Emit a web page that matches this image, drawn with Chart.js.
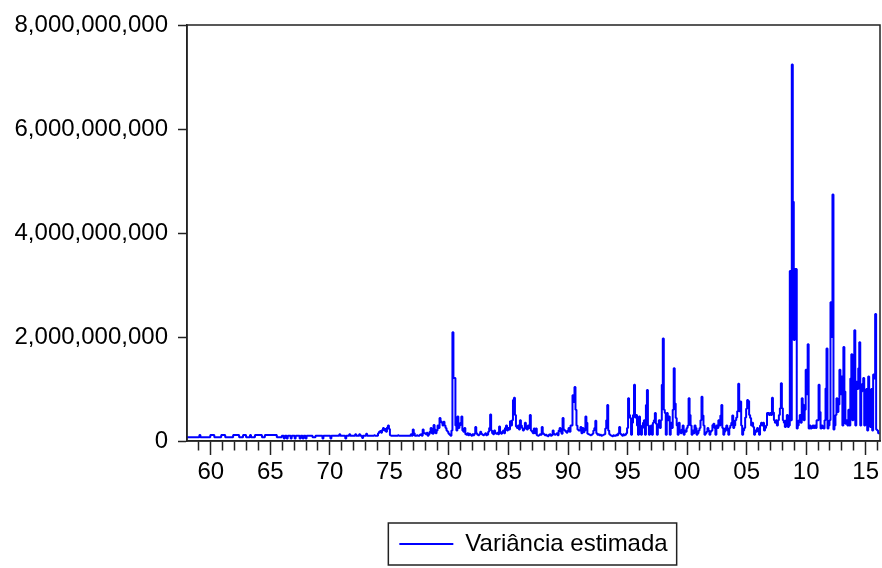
<!DOCTYPE html>
<html>
<head>
<meta charset="utf-8">
<script src="https://cdn.jsdelivr.net/npm/chart.js@4.4.1/dist/chart.umd.min.js"></script>
<style>
  html, body { margin: 0; padding: 0; background: #fff; }
  #wrap { width: 882px; height: 568px; }
</style>
</head>
<body>
<div id="wrap"><canvas id="grafico" width="882" height="568"></canvas></div>
<script>
// === Dados: variância estimada, mensal, em milhões (1958m1 - 2016m3) ===
const anoInicial = 1958;
const anoFinal = 2016.2;
const variancia = [
  70, 70, 70, 70, 70, 70, 70, 70, 70, 70, 70, 70,            // 1958
  70, 115, 70, 70, 70, 70, 70, 70, 70, 70, 70, 70,           // 1959
  115, 115, 115, 115, 70, 70, 70, 70, 70, 70, 70, 115,       // 1960
  115, 115, 115, 70, 70, 70, 70, 70, 70, 70, 70, 115,        // 1961
  115, 115, 115, 115, 115, 70, 70, 70, 70, 115, 115, 115,    // 1962
  70, 70, 70, 70, 115, 70, 70, 70, 70, 115, 115, 115,        // 1963
  115, 115, 115, 115, 70, 70, 70, 115, 115, 115, 115, 115,   // 1964
  115, 115, 115, 115, 115, 115, 115, 70, 70, 70, 70, 70,     // 1965
  100, 100, 50, 100, 100, 50, 100, 100, 100, 50, 100, 100,   // 1966
  100, 50, 100, 100, 100, 100, 50, 100, 100, 50, 100, 100,   // 1967
  50, 100, 100, 100, 100, 100, 100, 70, 70, 70, 100, 100,    // 1968
  100, 100, 100, 100, 100, 50, 100, 100, 100, 100, 100, 100, // 1969
  100, 50, 100, 100, 100, 100, 100, 100, 100, 100, 130, 100, // 1970
  100, 100, 100, 100, 50, 100, 100, 100, 130, 100, 100, 100, // 1971
  100, 100, 130, 100, 100, 100, 130, 100, 100, 60, 100, 100, // 1972
  100, 140, 100, 100, 100, 100, 100, 100, 100, 110, 100, 100, // 1973
  100, 150, 180, 190, 160, 210, 250, 200, 230, 180, 260, 300, // 1974
  230, 110, 100, 100, 100, 100, 100, 100, 100, 110, 100, 100, // 1975
  100, 100, 100, 100, 100, 100, 100, 100, 100, 100, 130, 100, // 1976
  220, 150, 100, 100, 110, 100, 100, 120, 130, 100, 220, 150, // 1977
  150, 130, 160, 100, 130, 180, 250, 150, 140, 310, 220, 150, // 1978
  200, 300, 250, 440, 380, 350, 300, 370, 300, 250, 200, 180, // 1979
  140, 120, 100, 200, 2090, 1210, 1210, 300, 200, 470, 250, 300, // 1980
  350, 470, 200, 180, 250, 130, 120, 150, 110, 140, 120, 100, // 1981
  130, 110, 140, 270, 150, 120, 110, 130, 180, 140, 120, 110, // 1982
  130, 150, 110, 120, 180, 250, 510, 200, 150, 130, 200, 150, // 1983
  140, 160, 130, 280, 170, 140, 180, 200, 150, 250, 300, 200, // 1984
  250, 220, 380, 300, 400, 790, 830, 500, 280, 250, 300, 220, // 1985
  400, 300, 250, 200, 230, 350, 280, 220, 300, 250, 500, 200, // 1986
  180, 150, 240, 150, 240, 110, 100, 110, 130, 120, 270, 150, // 1987
  130, 110, 120, 100, 90, 120, 130, 100, 110, 200, 140, 120,  // 1988
  130, 150, 110, 200, 250, 180, 140, 440, 220, 200, 180, 160, // 1989
  200, 250, 180, 300, 300, 880, 750, 1040, 600, 300, 220, 200, // 1990
  200, 270, 150, 250, 170, 200, 470, 350, 140, 130, 120, 110, // 1991
  120, 140, 200, 250, 390, 150, 120, 130, 110, 120, 100, 110, // 1992
  120, 130, 240, 400, 690, 200, 130, 110, 100, 90, 110, 100,  // 1993
  100, 120, 110, 150, 270, 140, 120, 100, 130, 110, 120, 150, // 1994
  250, 820, 500, 440, 120, 350, 500, 1080, 450, 500, 300, 120, // 1995
  470, 300, 120, 250, 350, 400, 120, 690, 980, 300, 120, 200, // 1996
  300, 120, 350, 400, 540, 330, 120, 300, 400, 250, 400, 1080, // 1997
  1970, 600, 540, 120, 540, 400, 470, 120, 350, 250, 600, 1400, // 1998
  720, 440, 300, 120, 350, 200, 150, 220, 300, 120, 200, 180, // 1999
  250, 300, 820, 500, 300, 120, 200, 150, 300, 250, 120, 150, // 2000
  200, 250, 400, 850, 490, 300, 120, 150, 180, 250, 200, 120, // 2001
  180, 200, 310, 330, 250, 120, 300, 250, 400, 300, 490, 690, // 2002
  250, 120, 180, 250, 300, 200, 120, 250, 300, 350, 490, 250, // 2003
  300, 400, 450, 570, 1100, 570, 760, 300, 120, 200, 250, 450, // 2004
  620, 790, 770, 500, 440, 300, 350, 270, 120, 200, 180, 250, // 2005
  200, 120, 300, 350, 300, 350, 200, 250, 300, 540, 540, 500, // 2006
  540, 500, 830, 550, 400, 350, 400, 300, 400, 500, 630, 1110, // 2007
  630, 400, 350, 270, 400, 500, 270, 300, 3270, 400, 7240, 4600, // 2008
  1940, 3310, 3310, 240, 300, 400, 500, 350, 820, 700, 400, 600, // 2009
  1370, 900, 1860, 240, 300, 240, 250, 300, 250, 300, 250, 400, // 2010
  400, 1080, 560, 240, 300, 250, 240, 400, 1010, 1780, 240, 300, // 2011
  400, 2670, 2000, 4740, 220, 300, 500, 820, 560, 700, 1370, 900, // 2012
  1240, 300, 1810, 950, 330, 400, 300, 600, 300, 1200, 1670, 400, // 2013
  1400, 2130, 300, 1140, 1000, 1400, 1900, 300, 950, 1100, 1210, 300, // 2014
  900, 1000, 200, 1240, 800, 270, 1000, 200, 1280, 1200, 2440, 220, // 2015
  200, 150, 150                                                // 2016
];

// === Eixos ===
const anosMaiores = [1960, 1965, 1970, 1975, 1980, 1985, 1990, 1995, 2000, 2005, 2010, 2015];
const ticksY = [0, 2000000000, 4000000000, 6000000000, 8000000000];

const fonte = "'Liberation Sans', Arial, sans-serif";

// pontos (x = ano fracionário, y = variância)
const pontos = variancia.map((v, i) => ({ x: anoInicial + i / 12, y: v * 1e6 }));

// moldura em volta da área do gráfico e da legenda
const moldura = {
  id: 'moldura',
  afterLayout(chart) {
    // legenda centrada sob a área do gráfico
    const lg = chart.legend;
    lg.left = chart.chartArea.left;
    lg.right = chart.chartArea.right;
    lg.width = lg.right - lg.left;
  },
  afterDraw(chart) {
    const ctx = chart.ctx;
    const a = chart.chartArea;
    ctx.save();
    ctx.strokeStyle = '#222';
    ctx.lineWidth = 1.5;
    ctx.strokeRect(a.left, a.top, a.right - a.left, a.bottom - a.top);

    const hb = chart.legend.legendHitBoxes[0];
    if (hb) {
      ctx.strokeRect(hb.left - 11, hb.top - 9, hb.width + 20, 42);
    }
    ctx.restore();
  }
};

new Chart(document.getElementById('grafico'), {
  type: 'line',
  data: {
    datasets: [{
      label: 'Variância estimada',
      data: pontos,
      borderColor: '#0000ff',
      backgroundColor: '#0000ff',
      borderWidth: 2,
      borderJoinStyle: 'bevel',
      stepped: 'middle',
      pointRadius: 0,
      fill: false
    }]
  },
  options: {
    responsive: false,
    animation: false,
    layout: { padding: { top: 25, right: 2, bottom: 2, left: 0 } },
    plugins: {
      tooltip: { enabled: false },
      legend: {
        position: 'bottom',
        labels: {
          boxWidth: 54,
          boxHeight: 0,
          color: '#000',
          padding: 10,
          font: { family: fonte, size: 24 }
        }
      }
    },
    scales: {
      x: {
        type: 'linear',
        min: anoInicial,
        max: anoFinal,
        afterFit(scale) { scale.height = 81; },
        afterBuildTicks(scale) {
          const t = [];
          for (let a = 1959; a <= 2016; a++) t.push({ value: a });
          scale.ticks = t;
        },
        border: { display: true, color: '#222', width: 1.5 },
        grid: {
          drawOnChartArea: false,
          tickLength: 14,
          tickColor: '#222',
          tickWidth: 1.5,
          tickBorderDash: (c) => anosMaiores.includes(c.tick && c.tick.value) ? [] : [9, 30]
        },
        ticks: {
          autoSkip: false,
          maxRotation: 0,
          padding: 3,
          color: '#000',
          font: { family: fonte, size: 24 },
          callback: (v) => anosMaiores.includes(v) ? String(v % 100).padStart(2, '0') : ''
        }
      },
      y: {
        min: 0,
        max: 8000000000,
        afterFit(scale) { scale.width = 187; },
        afterBuildTicks(scale) { scale.ticks = ticksY.map(v => ({ value: v })); },
        border: { display: true, color: '#222', width: 1.5 },
        grid: { drawOnChartArea: false, tickLength: 9, tickColor: '#222', tickWidth: 1.5 },
        ticks: {
          padding: 10,
          color: '#000',
          font: { family: fonte, size: 24 },
          callback: (v) => v.toLocaleString('en-US')
        }
      }
    }
  },
  plugins: [moldura]
});
</script>
</body>
</html>
